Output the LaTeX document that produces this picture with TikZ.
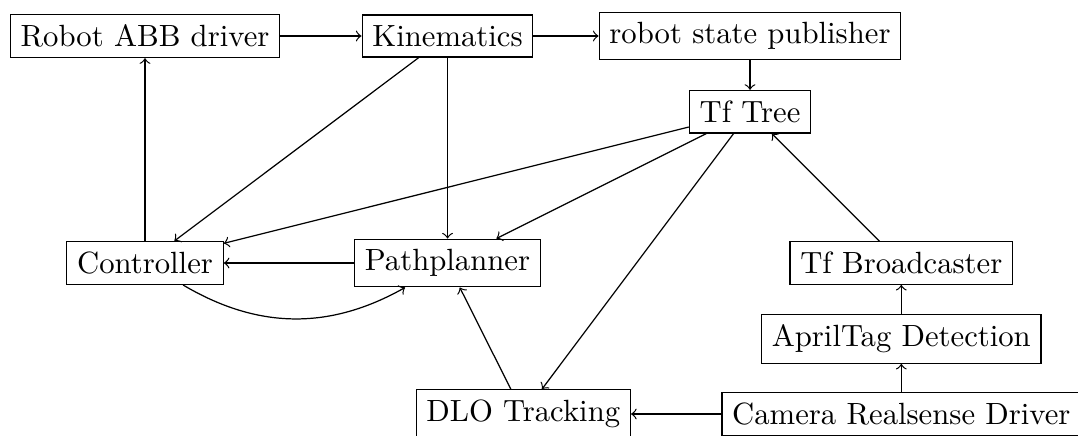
\documentclass[tikz,border=0pt]{standalone}
\begin{document}
\begin{tikzpicture}[x=0.3257pt,y=-0.3257pt,
  block/.style={draw,rectangle},
  flow/.style={->}]
\useasboundingbox (0,0) rectangle (1078,435);
\clip (0,0) rectangle (1078,435);

% processing nodes
\node[block] (abb)   at (145,36)    {Robot ABB driver};
\node[block] (kin)   at (447.5,36)  {Kinematics};
\node[block] (rsp)   at (750,36)    {robot state publisher};
\node[block] (tf)    at (750,111.7) {Tf Tree};
\node[block] (ctrl)  at (145,263)   {Controller};
\node[block] (path)  at (447.5,263) {Pathplanner};
\node[block] (tfb)   at (901.3,263) {Tf Broadcaster};
\node[block] (april) at (901.3,338.8) {AprilTag Detection};
\node[block] (dlo)   at (523.3,414) {DLO Tracking};
\node[block] (cam)   at (901.3,414) {Camera Realsense Driver};

% data flow
\draw[flow] (abb) -- (kin);
\draw[flow] (kin) -- (rsp);
\draw[flow] (rsp) -- (tf);
\draw[flow] (kin) -- (ctrl);
\draw[flow] (kin) -- (path);
\draw[flow] (tf) -- (ctrl);
\draw[flow] (tf) -- (path);
\draw[flow] (tf) -- (dlo);
\draw[flow] (ctrl) -- (abb);
\draw[flow] (path) -- (ctrl);
\draw[flow] (ctrl) to[bend right] (path);
\draw[flow] (dlo) -- (path);
\draw[flow] (cam) -- (dlo);
\draw[flow] (cam) -- (april);
\draw[flow] (april) -- (tfb);
\draw[flow] (tfb) -- (tf);
\end{tikzpicture}
\end{document}
